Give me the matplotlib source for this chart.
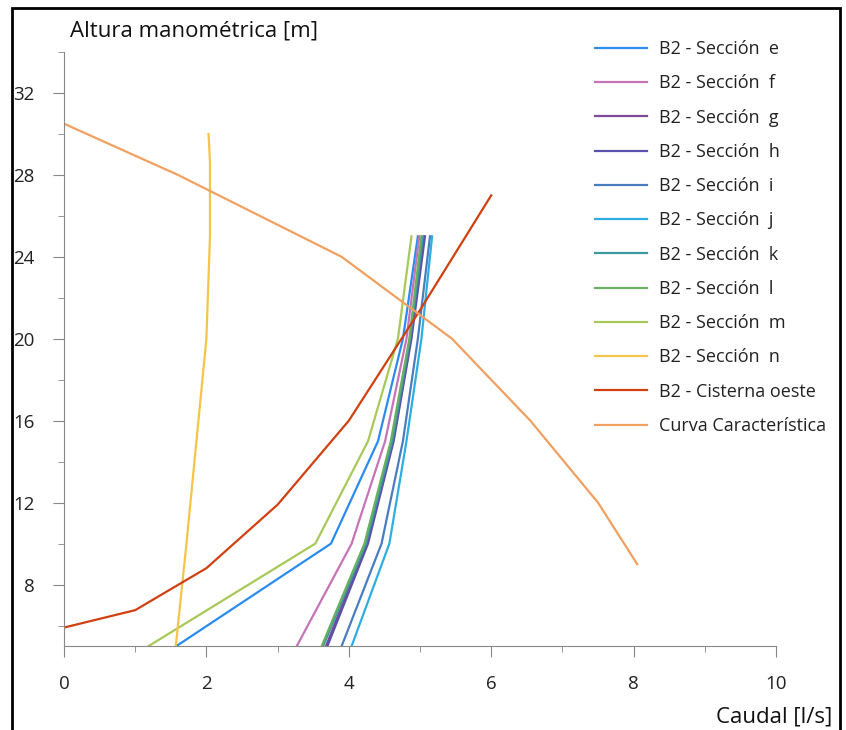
import matplotlib.pyplot as plt
from matplotlib.patches import Rectangle
from matplotlib.ticker import MultipleLocator

plt.rcParams['font.family'] = ['Open Sans', 'DejaVu Sans']

# caudal [l/s] per section, heights shared
H_sec = [5, 10, 15, 20, 25]
Q_e = [1.58, 3.75, 4.41, 4.76, 4.97]
Q_f = [3.27, 4.04, 4.51, 4.81, 4.99]
Q_g = [3.68, 4.25, 4.62, 4.87, 5.05]
Q_h = [3.70, 4.27, 4.63, 4.88, 5.07]
Q_i = [3.90, 4.46, 4.76, 4.97, 5.14]
Q_j = [4.04, 4.57, 4.81, 5.02, 5.17]
Q_k = [3.64, 4.24, 4.61, 4.86, 5.04]
Q_l = [3.62, 4.22, 4.59, 4.85, 5.02]
Q_m = [1.19, 3.53, 4.27, 4.69, 4.88]

H_n = [5, 10, 15, 20, 25, 28.6, 30]
Q_n = [1.57, 1.72, 1.86, 2.0, 2.05, 2.05, 2.03]

Q_cis = [0, 1, 2, 3, 4, 5, 6]
H_cis = [5.9, 6.75, 8.8, 11.9, 16, 21.4, 27]

Q_curva = [0, 1.6, 3.9, 5.45, 6.55, 7.5, 8.05]
H_curva = [30.5, 28, 24, 20, 16, 12, 9]

sections = [
    ('e', Q_e, '#2A8CF0'),
    ('f', Q_f, '#C574B8'),
    ('g', Q_g, '#7E4A9A'),
    ('h', Q_h, '#5A52A8'),
    ('i', Q_i, '#4A7CC0'),
    ('j', Q_j, '#2EAEE0'),
    ('k', Q_k, '#3A9A9E'),
    ('l', Q_l, '#6BAF60'),
    ('m', Q_m, '#A8C85A'),
]

fig = plt.figure(figsize=(8.46, 7.3), dpi=100)
ax = fig.add_axes([64/846, 84/730, 712/846, 594/730])

for name, q, c in sections:
    ax.plot(q, H_sec, color=c, lw=1.6, label='B2 - Sección  ' + name)
ax.plot(Q_n, H_n, color='#F5C54A', lw=1.6, label='B2 - Sección  n')
ax.plot(Q_cis, H_cis, color='#D04010', lw=1.6, label='B2 - Cisterna oeste')
ax.plot(Q_curva, H_curva, color='#F0A060', lw=1.6, label='Curva Característica')

ax.set_xlim(0, 10)
ax.set_ylim(5, 34)
ax.xaxis.set_major_locator(MultipleLocator(2))
ax.xaxis.set_minor_locator(MultipleLocator(1))
ax.set_yticks([8, 12, 16, 20, 24, 28, 32])
ax.yaxis.set_minor_locator(MultipleLocator(2))
ax.tick_params(which='major', length=8, color='#888888', labelsize=13.5, labelcolor='#222222')
ax.tick_params(which='minor', length=4.5, color='#888888')
ax.tick_params(axis='y', pad=13)
ax.tick_params(axis='x', pad=13)
for s in ['top', 'right']:
    ax.spines[s].set_visible(False)
for s in ['left', 'bottom']:
    ax.spines[s].set_color('#888888')

fig.text(70/846, 1 - 37/730, 'Altura manométrica [m]', fontsize=16, va='baseline', ha='left', color='#111111')
fig.text(832/846, 1 - 722/730, 'Caudal [l/s]', fontsize=16, va='baseline', ha='right', color='#111111')

ax.legend(loc='upper left', bbox_to_anchor=(588/846, 1 - 33/730), bbox_transform=fig.transFigure,
          frameon=False, fontsize=13, handlelength=2.88, handletextpad=0.66,
          labelspacing=0.9, borderaxespad=0, labelcolor='#222222')

fig.patches.append(Rectangle((12/846, -0.01), 828/846, 1 - 8/730 + 0.01,
                             transform=fig.transFigure, fill=False, lw=2, ec='black'))

fig.savefig('out.png', dpi=100)
